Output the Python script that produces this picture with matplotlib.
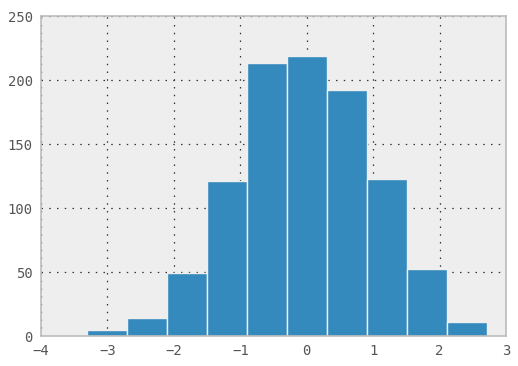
import matplotlib
matplotlib.use("Agg")
import matplotlib.pyplot as plt
import numpy as np

bin_edges = [-3.31, -2.71, -2.11, -1.50, -0.90, -0.30, 0.30, 0.91, 1.51, 2.11, 2.71]
counts = [5, 14, 49, 121, 213, 219, 192, 123, 52, 11]
x_ticks = [-4, -3, -2, -1, 0, 1, 2, 3]
y_ticks = [0, 50, 100, 150, 200, 250]

plt.rcParams['font.family'] = 'DejaVu Sans Mono'
fig = plt.figure(figsize=(5.18, 3.66), dpi=100)
ax = fig.add_axes([41/518, 30/366, 465/518, 320/366])
ax.set_facecolor('#eeeeee')
edges = np.array(bin_edges)
centers = (edges[:-1] + edges[1:]) / 2
ax.hist(centers, bins=edges, weights=counts, color='#348ABD', edgecolor='#eeeeee', linewidth=1, zorder=2)
ax.set_xlim(-4, 3)
ax.set_ylim(0, 250)
ax.set_xticks(x_ticks)
ax.set_yticks(y_ticks)
ax.set_xticklabels(['\u22124', '\u22123', '\u22122', '\u22121', '0', '1', '2', '3'])
ax.grid(True, color='#333333', linestyle=(0, (1.2, 5)), linewidth=0.9, zorder=1)
ax.set_axisbelow(True)
for s in ax.spines.values():
    s.set_color('#bcbcbc')
    s.set_linewidth(1.2)
ax.tick_params(length=0, labelsize=10, labelcolor='#555555', pad=6)
fig.savefig('out.png', dpi=100)
